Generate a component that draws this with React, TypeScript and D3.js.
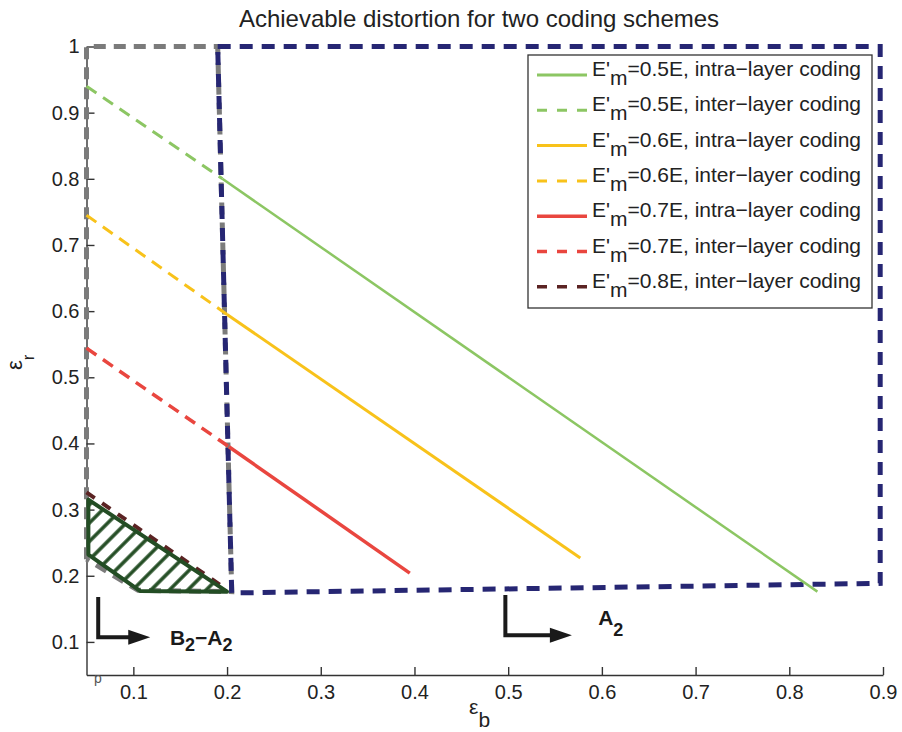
import React, { useRef, useEffect } from "react";
import * as d3 from "d3";

// ticks
const xTicks = [0.1, 0.2, 0.3, 0.4, 0.5, 0.6, 0.7, 0.8, 0.9];
const yTicks = [0.1, 0.2, 0.3, 0.4, 0.5, 0.6, 0.7, 0.8, 0.9, 1];

// curves, [eps_b, eps_r]
const green05Inter = [[0.05, 0.94], [0.195, 0.8]];
const green05Intra = [[0.195, 0.8], [0.83, 0.176]];
const yellow06Inter = [[0.05, 0.745], [0.2, 0.595]];
const yellow06Intra = [[0.2, 0.595], [0.577, 0.227]];
const red07Inter = [[0.05, 0.544], [0.202, 0.395]];
const red07Intra = [[0.202, 0.395], [0.395, 0.204]];
const brown08Inter = [[0.05, 0.326], [0.2, 0.179]];

// regions
const regionB2 = [[0.05, 0.225], [0.05, 1], [0.19, 1], [0.205, 0.176], [0.105, 0.178], [0.05, 0.225]];
const regionA2 = [[0.19, 1], [0.897, 1], [0.897, 0.1885], [0.205, 0.174], [0.19, 1]];
const hatchRegion = [[0.052, 0.315], [0.052, 0.232], [0.107, 0.177], [0.2, 0.176]];

// annotations
const arrowB2 = [[0.0625, 0.168], [0.0625, 0.107], [0.118, 0.107]];
const arrowA2 = [[0.497, 0.171], [0.497, 0.11], [0.568, 0.11]];
const labelB2 = [0.139, 0.095];
const labelA2 = [0.596, 0.1255];

// legend
const legendCoef = ["0.5", "0.5", "0.6", "0.6", "0.7", "0.7", "0.8"];
const legendKind = ["intra", "inter", "intra", "inter", "intra", "inter", "inter"];
const legendColor = ["#8cc663", "#8cc663", "#f8c21a", "#f8c21a", "#e9463f", "#e9463f", "#5b2323"];

const FONT = "'Liberation Sans', Arial, Helvetica, sans-serif";

export default function App() {
  const ref = useRef<SVGSVGElement>(null);

  useEffect(() => {
    const width = 902;
    const height = 732;
    const svg = d3.select(ref.current);
    svg.selectAll("*").remove();
    svg.attr("width", width).attr("height", height);

    const x = d3.scaleLinear().domain([0.05, 0.9]).range([86.5, 883]);
    const y = d3.scaleLinear().domain([0.05, 1]).range([675, 46.5]);
    const line = d3.line<number[]>().x(d => x(d[0])).y(d => y(d[1]));

    svg.append("rect").attr("width", width).attr("height", height).attr("fill", "#fff");

    // hatch pattern
    const defs = svg.append("defs");
    const pat = defs.append("pattern")
      .attr("id", "hatch")
      .attr("patternUnits", "userSpaceOnUse")
      .attr("width", 13)
      .attr("height", 13)
      .attr("patternTransform", "rotate(45)");
    pat.append("line")
      .attr("x1", 4).attr("x2", 4).attr("y1", 0).attr("y2", 13)
      .attr("stroke", "#234d24").attr("stroke-width", 3.5);

    // axes
    const gx = svg.append("g")
      .attr("transform", `translate(0,${y(0.05)})`)
      .call(d3.axisBottom(x).tickValues(xTicks).tickSizeInner(-8).tickSizeOuter(0).tickPadding(10).tickFormat(d => String(d)));
    const gy = svg.append("g")
      .attr("transform", `translate(${x(0.05)},0)`)
      .call(d3.axisLeft(y).tickValues(yTicks).tickSizeInner(-8).tickSizeOuter(0).tickPadding(7).tickFormat(d => String(d)));
    [gx, gy].forEach(g => {
      g.select(".domain").attr("stroke", "#333").attr("stroke-width", 1.4);
      g.selectAll(".tick line").attr("stroke", "#333").attr("stroke-width", 1.4);
      g.selectAll(".tick text").attr("fill", "#222").style("font-size", "20px").style("font-family", FONT);
    });

    // region boundaries
    svg.append("path").attr("d", line(regionB2 as any))
      .attr("fill", "none").attr("stroke", "#7b7b7b").attr("stroke-width", 5).attr("stroke-dasharray", "12 8");
    svg.append("path").attr("d", line(regionA2 as any))
      .attr("fill", "none").attr("stroke", "#262673").attr("stroke-width", 5).attr("stroke-dasharray", "13 9");

    // curves
    const curves = [
      { data: green05Inter, color: legendColor[0], dash: "12 8", w: 3 },
      { data: green05Intra, color: legendColor[0], dash: null, w: 2.5 },
      { data: yellow06Inter, color: legendColor[2], dash: "12 8", w: 3 },
      { data: yellow06Intra, color: legendColor[2], dash: null, w: 3 },
      { data: red07Inter, color: legendColor[4], dash: "12 8", w: 3.5 },
      { data: red07Intra, color: legendColor[4], dash: null, w: 3.5 },
    ];
    curves.forEach(c => {
      svg.append("path").attr("d", line(c.data as any))
        .attr("fill", "none").attr("stroke", c.color).attr("stroke-width", c.w)
        .attr("stroke-dasharray", c.dash);
    });

    // dark red dashed just above the hatched region
    svg.append("path").attr("d", line(brown08Inter as any))
      .attr("fill", "none").attr("stroke", legendColor[6]).attr("stroke-width", 4)
      .attr("stroke-dasharray", "10 9");

    // hatched triangle
    svg.append("path").attr("d", line(hatchRegion as any) + "Z")
      .attr("fill", "url(#hatch)").attr("stroke", "#234d24").attr("stroke-width", 4)
      .attr("stroke-linejoin", "round");

    // arrows
    [arrowB2, arrowA2].forEach(a => {
      const pts = a.map(p => [x(p[0]), y(p[1])]);
      const tip = pts[2];
      const headLen = 22;
      const shaft = [pts[0], pts[1], [tip[0] - headLen + 2, tip[1]]];
      svg.append("path").attr("d", d3.line()(shaft as any))
        .attr("fill", "none").attr("stroke", "#1a1a1a").attr("stroke-width", 4)
        .attr("stroke-linejoin", "miter");
      svg.append("path")
        .attr("d", `M${tip[0]},${tip[1]}L${tip[0] - headLen},${tip[1] - 7.5}L${tip[0] - headLen},${tip[1] + 7.5}Z`)
        .attr("fill", "#1a1a1a");
    });

    const tB = svg.append("text").attr("x", x(labelB2[0])).attr("y", y(labelB2[1]))
      .style("font-family", FONT).style("font-weight", "bold").style("font-size", "21px").attr("fill", "#1a1a1a");
    tB.append("tspan").text("B");
    tB.append("tspan").attr("dy", 6).style("font-size", "18px").text("2");
    tB.append("tspan").attr("dy", -6).text("\u2212A");
    tB.append("tspan").attr("dy", 6).style("font-size", "18px").text("2");

    const tA = svg.append("text").attr("x", x(labelA2[0])).attr("y", y(labelA2[1]))
      .style("font-family", FONT).style("font-weight", "bold").style("font-size", "21px").attr("fill", "#1a1a1a");
    tA.append("tspan").text("A");
    tA.append("tspan").attr("dy", 11).style("font-size", "18px").text("2");

    // stray mark near origin
    svg.append("text").attr("x", 94).attr("y", 683).text("p")
      .style("font-family", FONT).style("font-size", "14px").attr("fill", "#555");

    // legend
    const lg = svg.append("g");
    lg.append("rect").attr("x", 528).attr("y", 55).attr("width", 344).attr("height", 253)
      .attr("fill", "#fff").attr("stroke", "#333").attr("stroke-width", 1.3);
    legendCoef.forEach((c, i) => {
      const ly = 75 + i * 35.3;
      lg.append("line").attr("x1", 537).attr("x2", 587).attr("y1", ly).attr("y2", ly)
        .attr("stroke", legendColor[i]).attr("stroke-width", i >= 4 ? 3.5 : 3)
        .attr("stroke-dasharray", legendKind[i] === "inter" ? "10 10" : null);
      const t = lg.append("text").attr("x", 592).attr("y", ly + 1)
        .style("font-family", FONT).style("font-size", "21px").attr("fill", "#222");
      t.append("tspan").text("E'");
      t.append("tspan").attr("dy", 9).text("m");
      t.append("tspan").attr("dy", -9).text(`=${c}E, ${legendKind[i]}\u2212layer coding`);
    });

    // title and axis labels
    svg.append("text").attr("x", 479).attr("y", 27).attr("text-anchor", "middle")
      .style("font-family", FONT).style("font-size", "24px").attr("fill", "#222")
      .text("Achievable distortion for two coding schemes");

    const xl = svg.append("text").attr("x", 469).attr("y", 714)
      .style("font-family", FONT).style("font-size", "21px").attr("fill", "#222");
    xl.append("tspan").text("\u03b5");
    xl.append("tspan").attr("dy", 13).text("b");

    const yl = svg.append("text").attr("transform", "translate(22,370) rotate(-90)")
      .style("font-family", FONT).style("font-size", "22px").attr("fill", "#222");
    yl.append("tspan").text("\u03b5");
    yl.append("tspan").attr("dy", 12).style("font-size", "17px").text("r");
  }, []);

  return (
    <div style={{ position: "absolute", left: 0, top: 0 }}>
      <svg ref={ref}></svg>
    </div>
  );
}
